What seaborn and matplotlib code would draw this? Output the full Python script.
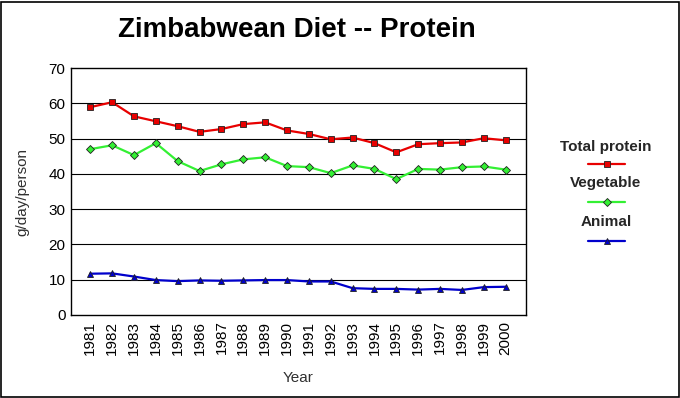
import numpy as np
import pandas as pd
import matplotlib
matplotlib.use("Agg")
import matplotlib.pyplot as plt
from matplotlib.lines import Line2D
from matplotlib.patches import Rectangle
import seaborn as sns

# data
years = list(range(1981, 2001))
total_protein = [58.9, 60.3, 56.3, 54.9, 53.5, 51.9, 52.7, 54.1, 54.6, 52.3,
                 51.3, 49.8, 50.3, 48.7, 46.1, 48.4, 48.7, 48.9, 50.1, 49.5]
vegetable = [47.0, 48.1, 45.3, 48.7, 43.6, 40.8, 42.7, 44.1, 44.7, 42.2,
             41.9, 40.2, 42.4, 41.4, 38.5, 41.4, 41.2, 41.9, 42.1, 41.2]
animal = [11.7, 11.8, 10.9, 9.9, 9.6, 9.8, 9.7, 9.8, 9.9, 9.9,
          9.5, 9.5, 7.6, 7.4, 7.4, 7.2, 7.4, 7.1, 7.9, 8.0]
series_names = ["Total protein", "Vegetable", "Animal"]
y_ticks = [0, 10, 20, 30, 40, 50, 60, 70]

colors = {"Total protein": "#e80000", "Vegetable": "#33f033", "Animal": "#0000cc"}
markers = {"Total protein": "s", "Vegetable": "D", "Animal": "^"}
msizes = {"Total protein": 4.6, "Vegetable": 3.6, "Animal": 4.8}

df = pd.DataFrame({
    "idx": list(range(len(years))) * 3,
    "value": total_protein + vegetable + animal,
    "series": sum([[n] * len(years) for n in series_names], []),
})

sns.set_style("white")
plt.rcParams["font.family"] = ["Liberation Sans", "DejaVu Sans"]

fig = plt.figure(figsize=(6.8, 3.98), dpi=100)
ax = fig.add_axes([71 / 680, 1 - 315 / 398, (526 - 71) / 680, (315 - 68) / 398])

for name in series_names:
    sub = df[df["series"] == name]
    sns.lineplot(data=sub, x="idx", y="value", ax=ax, color=colors[name],
                 linewidth=1.6, marker=markers[name], markersize=msizes[name],
                 markeredgecolor="#202020", markeredgewidth=0.6, legend=False)

ax.set_xlim(-0.88, len(years) - 1 + 0.93)
ax.set_ylim(0, 70)
ax.set_yticks(y_ticks)
ax.set_yticklabels([str(t) for t in y_ticks], fontsize=11)
ax.set_xticks(range(len(years)))
ax.set_xticklabels([str(y) for y in years], rotation=90, fontsize=11)
ax.tick_params(axis="both", length=0, pad=4, colors="black")
for t in y_ticks[1:-1]:
    ax.axhline(t, color="black", linewidth=0.8, zorder=0)
for s in ax.spines.values():
    s.set_color("black")
    s.set_linewidth(1.0)

ax.set_xlabel("Year", fontsize=11, color="#303030", labelpad=12)
ax.set_ylabel("g/day/person", fontsize=11, color="#303030", labelpad=14)

fig.text(297 / 680, 1 - 30 / 398, "Zimbabwean Diet -- Protein", ha="center",
         va="center", fontsize=20, fontweight="bold", color="black")

# legend: label above a sample line
leg_text_y = [146.7, 183.3, 222.3]
leg_line_y = [164.3, 202.3, 240.7]
for name, ty, ly in zip(series_names, leg_text_y, leg_line_y):
    fig.text(606 / 680, 1 - ty / 398, name, ha="center", va="center",
             fontsize=11, fontweight="bold")
    fig.add_artist(Line2D([588 / 680, 625 / 680], [1 - ly / 398] * 2,
                          transform=fig.transFigure, color=colors[name], linewidth=1.6))
    fig.add_artist(Line2D([606.5 / 680], [1 - ly / 398], transform=fig.transFigure,
                          marker=markers[name], markersize=msizes[name],
                          color=colors[name], markeredgecolor="#202020",
                          markeredgewidth=0.6, linestyle="none"))

fig.add_artist(Rectangle((0.5 / 680, 1.5 / 398), 678 / 680, 395 / 398,
                         transform=fig.transFigure, fill=False,
                         edgecolor="black", linewidth=1.2))

fig.savefig("out.png", dpi=100, facecolor="white")
